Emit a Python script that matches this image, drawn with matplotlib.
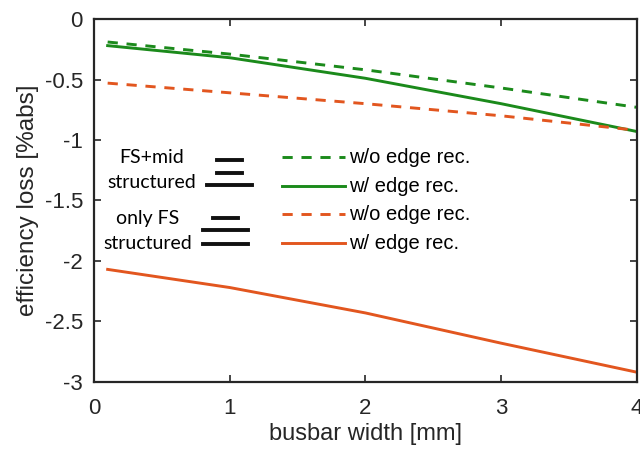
import matplotlib
matplotlib.use("Agg")
import matplotlib.pyplot as plt
from matplotlib.lines import Line2D

plt.rcParams['font.family'] = ['Liberation Sans', 'DejaVu Sans']
plt.rcParams['axes.unicode_minus'] = False

width = [0.1, 1.0, 2.0, 3.0, 4.0]
mid_no_edge = [-0.19, -0.29, -0.42, -0.57, -0.73]
mid_edge = [-0.22, -0.32, -0.49, -0.70, -0.93]
fs_no_edge = [-0.53, -0.61, -0.70, -0.80, -0.92]
fs_edge = [-2.07, -2.22, -2.43, -2.68, -2.92]

xticks = [0, 1, 2, 3, 4]
yticks = [0, -0.5, -1, -1.5, -2, -2.5, -3]
ytick_labels = ['0', '-0.5', '-1', '-1.5', '-2', '-2.5', '-3']

GREEN = '#1b8a1b'
ORANGE = '#e2561f'
AXC = '#262626'

fig = plt.figure(figsize=(6.4, 4.53), dpi=100)
ax = fig.add_axes([0.147, 0.157, 0.848, 0.801])

dash = (3.5, 3.0)
ax.plot(width, mid_no_edge, color=GREEN, lw=2.1, dashes=dash)
ax.plot(width, mid_edge, color=GREEN, lw=2.1)
ax.plot(width, fs_no_edge, color=ORANGE, lw=2.1, dashes=dash)
ax.plot(width, fs_edge, color=ORANGE, lw=2.1)

ax.set_xlim(0, 4)
ax.set_ylim(-3, 0)
ax.set_xticks(xticks)
ax.set_yticks(yticks)
ax.set_yticklabels(ytick_labels)
ax.tick_params(direction='in', top=True, right=True, length=5, width=1.2,
               labelsize=16, colors=AXC)
ax.tick_params(axis='x', pad=11.5)
ax.tick_params(axis='y', pad=8)
for s in ax.spines.values():
    s.set_linewidth(1.6)
    s.set_color(AXC)
ax.set_xlabel('busbar width [mm]', fontsize=17, color=AXC, labelpad=3)
ax.set_ylabel('efficiency loss [%abs]', fontsize=17.5, color=AXC, labelpad=4)

# legend-like annotation, placed in pixel terms of the reference
x0, x1 = 94.0, 637.0
y0, y1 = 382.0, 19.0


def px(x, y):
    return ((x - x0) / (x1 - x0), (y0 - y) / (y0 - y1))


entries = [
    (157, GREEN, True, 'w/o edge rec.'),
    (186, GREEN, False, 'w/ edge rec.'),
    (214, ORANGE, True, 'w/o edge rec.'),
    (243, ORANGE, False, 'w/ edge rec.'),
]
for yy, c, dashed, label in entries:
    a = px(282, yy)
    b = px(345, yy)
    ln = Line2D([a[0], b[0]], [a[1], b[1]], color=c, lw=2.1,
                transform=ax.transAxes)
    if dashed:
        ln.set_dashes(dash)
    ax.add_line(ln)
    t = px(349, yy + 1)
    ax.text(t[0], t[1], label, transform=ax.transAxes, fontsize=14.5,
            va='center', ha='left', color='black')

bars = [(160, 217, 242), (173, 217, 242), (185, 207, 252),
        (218, 213, 238), (230, 203, 248), (244, 203, 248)]
for yy, xa, xb in bars:
    a = px(xa, yy)
    b = px(xb, yy)
    ax.add_line(Line2D([a[0], b[0]], [a[1], b[1]], color='#111111', lw=2.8,
                       transform=ax.transAxes))

side = [(158, 152, 'FS+mid'), (183, 152, 'structured'),
        (219, 148, 'only FS'), (244, 148, 'structured')]
for yy, xx, label in side:
    t = px(xx, yy)
    ax.text(t[0], t[1], label, transform=ax.transAxes, fontsize=14,
            family=['Lato', 'DejaVu Sans'], va='center', ha='center',
            color='black')

fig.savefig('out.png', dpi=100)
